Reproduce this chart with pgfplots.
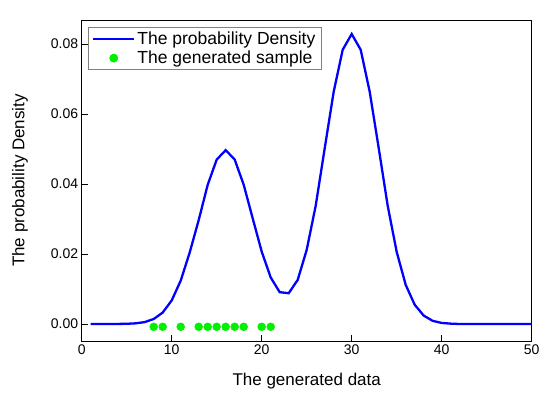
\documentclass[border=0pt]{standalone}
\usepackage{pgfplots}
\pgfplotsset{compat=1.18}
\usepackage{fontspec}
\setmainfont{Liberation Sans}
\definecolor{curveblue}{RGB}{0,0,255}
\definecolor{ptgreen}{RGB}{0,240,0}
\begin{document}
\begin{tikzpicture}
\begin{axis}[
  at={(0,0)}, anchor=south west,
  scale only axis,
  width=450bp, height=321bp,
  xmin=0, xmax=50, ymin=-0.00486, ymax=0.0869,
  xtick={0,10,20,30,40,50},
  ytick={0,0.02,0.04,0.06,0.08},
  scaled y ticks=false,
  yticklabel style={/pgf/number format/.cd, fixed, fixed zerofill, precision=2},
  /pgf/number format/assume math mode=true,
  tick pos=left, tick align=inside,
  major tick length=6bp,
  tick style={black, line width=0.8bp},
  axis line style={black, line width=0.8bp},
  ticklabel style={font=\fontsize{14bp}{16bp}\selectfont},
  xlabel={The generated data},
  ylabel={The probability Density},
  every axis x label/.style={at={(axis description cs:0.5,-0.1246)}, anchor=center, font=\fontsize{17bp}{20bp}\selectfont},
  every axis y label/.style={at={(axis description cs:-0.137,0.5)}, anchor=center, rotate=90, font=\fontsize{17bp}{20bp}\selectfont},
  legend cell align=left,
  legend image code/.code={\draw[mark repeat=2,mark phase=2,#1] plot coordinates {(0bp,0bp) (20.5bp,0bp) (41bp,0bp)};},
  legend style={at={(0,1)}, anchor=north west, xshift=6bp, yshift=-7bp,
    draw=gray, line width=0.8bp, font=\fontsize{17.5bp}{20bp}\selectfont,
    inner xsep=4bp, inner ysep=2.5bp, row sep=1bp},
]
\addplot[curveblue, line width=2.3bp, mark=none] coordinates {
(1,0) (2,0) (3,0) (4,0.00002) (5,0.00006) (6,0.00019) (7,0.00055) (8,0.00142)
(9,0.00327) (10,0.00673) (11,0.01238) (12,0.02044) (13,0.0297) (14,0.0398)
(15,0.0470) (16,0.0497) (17,0.0470) (18,0.0398) (19,0.0302) (20,0.0207)
(21,0.0133) (22,0.0091) (23,0.0088) (24,0.0126) (25,0.0212) (26,0.0338)
(27,0.0502) (28,0.0664) (29,0.0784) (30,0.0829) (31,0.0784) (32,0.0664)
(33,0.0503) (34,0.0338) (35,0.0206) (36,0.0112) (37,0.0055) (38,0.0024)
(39,0.0009) (40,0.0003) (41,0.0001) (42,0) (43,0) (44,0) (45,0) (46,0)
(47,0) (48,0) (49,0) (50,0)
};
\addlegendentry{The probability Density}
\addplot[ptgreen, only marks, mark=*, mark size=4bp, mark options={fill=ptgreen, draw=ptgreen}] coordinates {
(8,-0.0008) (9,-0.0008) (11,-0.0008) (13,-0.0008) (14,-0.0008) (15,-0.0008)
(16,-0.0008) (17,-0.0008) (18,-0.0008) (20,-0.0008) (21,-0.0008)
};
\addlegendentry{The generated sample}
\end{axis}
\pgfresetboundingbox
\path[use as bounding box] (-81.7bp,-58bp) rectangle (468.3bp,341bp);
\end{tikzpicture}
\end{document}
